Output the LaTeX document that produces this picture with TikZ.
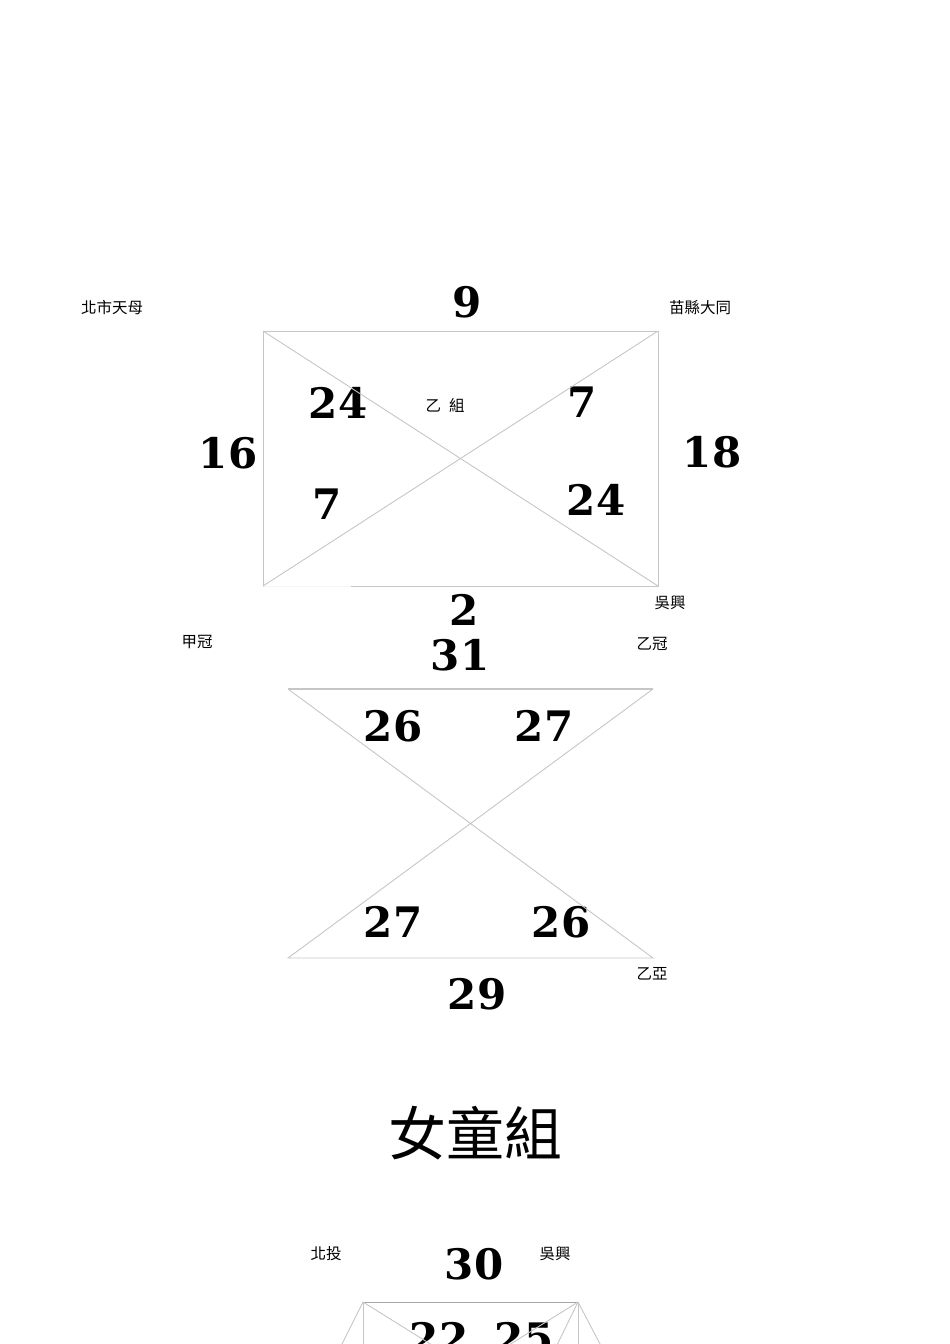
\documentclass[tikz,border=0pt]{standalone}
\usepackage{fontspec}
\newfontfamily\numfont{DejaVu Serif}
\newfontfamily\cjk{Noto Sans CJK TC}
\tikzset{
  score/.style={inner sep=0pt, font=\numfont\bfseries\fontsize{42}{42}\selectfont},
  team/.style={inner sep=0pt, font=\cjk\fontsize{15.5}{16}\selectfont},
  title/.style={inner sep=0pt, font=\cjk\fontsize{58}{60}\selectfont},
  link/.style={draw=gray!45, line width=0.9pt},
}

\begin{document}
\begin{tikzpicture}[x=1pt, y=-1pt]
        \useasboundingbox (0,0) rectangle (950,1344);
        \clip (0,0) rectangle (950,1344);
        \coordinate (b-tl) at (263,331);
        \coordinate (b-tr) at (658,331);
        \coordinate (b-bl) at (263,586);
        \coordinate (b-br) at (658,586);
        \coordinate (b-gap) at (351,586);
        \node[team] (tianmu) at (112,308) {北市天母};
        \node[score] (b9) at (467,302) {9};
        \node[team] (datong) at (700,308) {苗縣大同};
        \node[score] (b24a) at (338,403) {24};
        \node[team] (bgroup) at (445,405) {乙\hspace{8pt}組};
        \node[score] (b7a) at (582,402) {7};
        \node[score] (b16) at (228,453) {16};
        \node[score] (b18) at (712,452) {18};
        \node[score] (b7b) at (327,504) {7};
        \node[score] (b24b) at (596,500) {24};
        \node[score] (b2) at (464,610) {2};
        \node[team] (wuxing) at (670,603) {吳興};
        \draw[link] (b-tl) -- (b-tr) -- (b-br) -- (b-gap);
        \draw[link, draw=gray!8] (b-gap) -- (b-bl);
        \draw[link] (b-bl) -- (b-tl);
        \draw[link] (b-tl) -- (b-br);
        \draw[link] (b-tr) -- (b-bl);

        \coordinate (f-tl) at (288,689);
        \coordinate (f-tr) at (653,689);
        \coordinate (f-bl) at (288,958);
        \coordinate (f-br) at (653,958);
        \node[team] (jiaguan) at (197,642) {甲冠};
        \node[score] (f31) at (460,655) {31};
        \node[team] (yiguan) at (652,644) {乙冠};
        \node[score] (f26a) at (393,726) {26};
        \node[score] (f27a) at (544,726) {27};
        \node[score] (f27b) at (393,922) {27};
        \node[score] (f26b) at (561,922) {26};
        \node[score] (f29) at (477,994) {29};
        \node[team] (yiya) at (652,974) {乙亞};
        \draw[link, line width=1.3pt] (f-tl) -- (f-tr);
        \draw[link] (f-tl) -- (f-br) -- (f-bl) -- (f-tr);

        \node[title] (girls) at (475,1133) {女童組};

        \coordinate (g-tl) at (363,1302);
        \coordinate (g-tr) at (578,1302);
        \coordinate (g-bl) at (363,1436);
        \coordinate (g-br) at (578,1436);
        \coordinate (g-ol) at (322,1384);
        \coordinate (g-or) at (621,1384);
        \coordinate (g-ir) at (538,1384);
        \node[team] (beitou) at (326,1254) {北投};
        \node[score] (g30) at (474,1264) {30};
        \node[team] (wuxing2) at (555,1254) {吳興};
        \node[score] (g22) at (439,1338) {22};
        \node[score] (g25) at (524,1338) {25};
        \draw[link, draw=gray!70] (g-tl) -- (g-tr);
        \draw[link] (g-tl) -- (g-bl);
        \draw[link] (g-tr) -- (g-br);
        \draw[link] (g-tl) -- (g-br);
        \draw[link] (g-tr) -- (g-bl);
        \draw[link] (g-tl) -- (g-ol);
        \draw[link] (g-tr) -- (g-or);
        \draw[link] (g-tr) -- (g-ir);
      \end{tikzpicture}
\end{document}
